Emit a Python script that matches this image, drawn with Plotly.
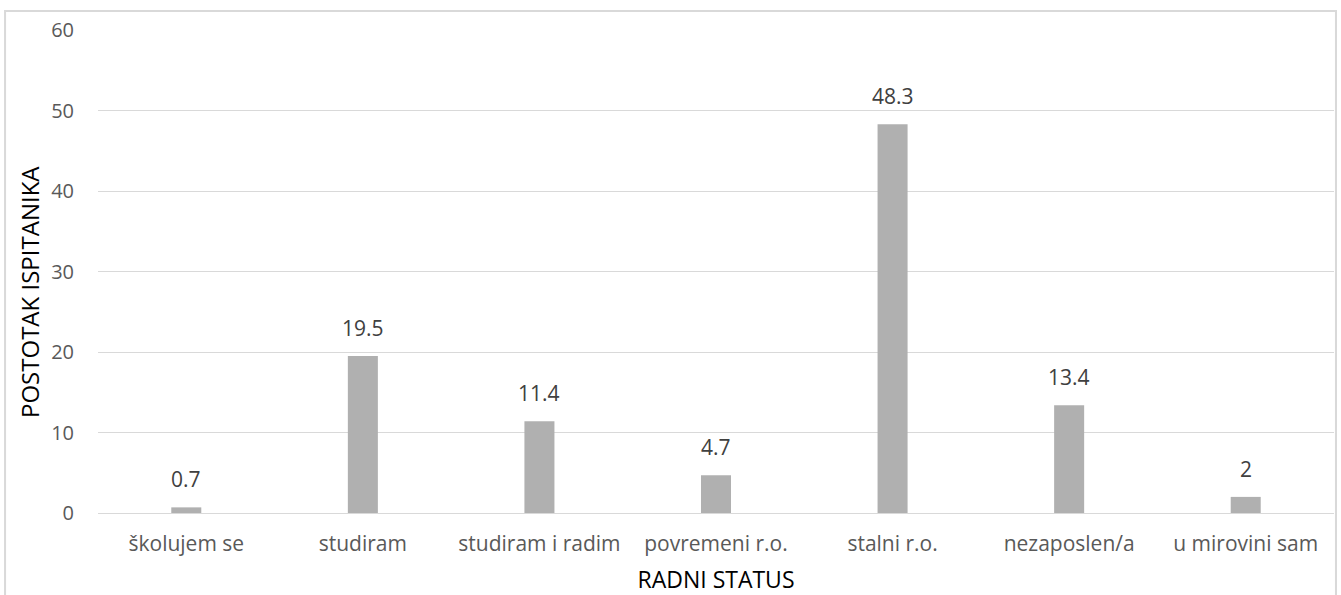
import plotly.graph_objects as go

categories = ["školujem se", "studiram", "studiram i radim", "povremeni r.o.", "stalni r.o.", "nezaposlen/a", "u mirovini sam"]
values = [0.7, 19.5, 11.4, 4.7, 48.3, 13.4, 2]
labels = ["0.7", "19.5", "11.4", "4.7", "48.3", "13.4", "2"]

fig = go.Figure()
fig.add_trace(go.Bar(
    x=categories, y=values,
    marker=dict(color="#B0B0B0", line=dict(width=0)),
    width=0.17, hoverinfo="x+y",
))

annotations = [
    dict(x=c, y=v, text=t, showarrow=False, xref="x", yref="y",
         yanchor="bottom", yshift=12,
         font=dict(family="Open Sans", size=21, color="#404040"))
    for c, v, t in zip(categories, values, labels)
]
annotations.append(dict(
    text="POSTOTAK ISPITANIKA", textangle=-90, showarrow=False,
    xref="paper", yref="paper", x=-0.055, y=0.4576,
    xanchor="center", yanchor="middle",
    font=dict(family="Open Sans", size=24, color="#000000"),
))

fig.update_layout(
    width=1341, height=595,
    margin=dict(l=98, r=7, t=30, b=82),
    paper_bgcolor="white", plot_bgcolor="white",
    font=dict(family="Open Sans", size=20, color="#595959"),
    showlegend=False,
    annotations=annotations,
    xaxis=dict(
        showgrid=False, showline=False, ticks="", ticklabelstandoff=16,
        tickfont=dict(size=21, color="#595959"),
        title=dict(text="RADNI STATUS", font=dict(size=23, color="#000000"), standoff=16),
    ),
    yaxis=dict(
        range=[0, 60], dtick=10, showgrid=True, gridcolor="#D9D9D9", gridwidth=1,
        zeroline=True, zerolinecolor="#D9D9D9", zerolinewidth=1,
        showline=False, ticks="", ticklabelstandoff=23,
        tickfont=dict(size=20, color="#595959"),
    ),
    shapes=[dict(
        type="rect", xref="paper", yref="paper",
        x0=-0.0752, x1=1.0016, y0=-0.4, y1=1.0393,
        line=dict(color="#D9D9D9", width=2), fillcolor="rgba(0,0,0,0)", layer="below",
    )],
)

fig.write_html("out.html", config={"displayModeBar": False},
               post_script="document.body.style.margin='0';")
